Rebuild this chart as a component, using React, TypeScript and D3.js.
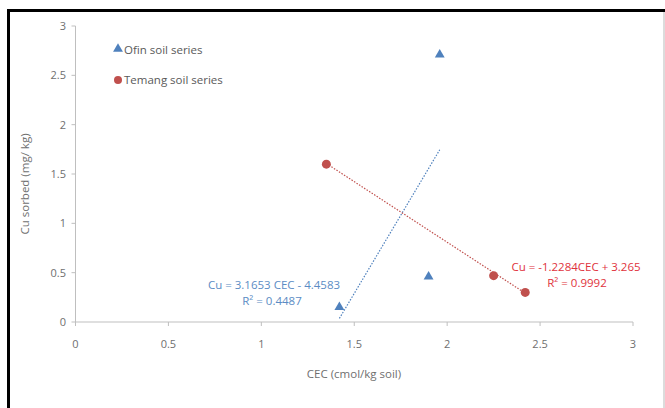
import React from "react";
import * as d3 from "d3";

// Ofin soil series (triangles)
const ofinCec = [1.42, 1.9, 1.96];
const ofinCu = [0.15, 0.46, 2.71];
// Temang soil series (circles)
const temangCec = [1.35, 2.25, 2.42];
const temangCu = [1.6, 0.47, 0.3];

// linear trend lines as shown on the chart
const ofinFit = { slope: 3.1653, intercept: -4.4583 };
const temangFit = { slope: -1.2284, intercept: 3.265 };

const xTicks = [0, 0.5, 1, 1.5, 2, 2.5, 3];
const yTicks = [0, 0.5, 1, 1.5, 2, 2.5, 3];

const BLUE = "#4f81bd";
const RED = "#c0504d";
const AXIS = "#bfbfbf";
const TEXT = "#6f6f6f";
const FONT = "'Open Sans', 'Noto Sans', sans-serif";

const App = () => {
  const x = d3.scaleLinear().domain([0, 3]).range([75.5, 633]);
  const y = d3.scaleLinear().domain([0, 3]).range([322, 26]);

  const tri = d3.symbol().type(d3.symbolTriangle).size(42)();
  const trend = (cec, fit) => {
    const [a, b] = d3.extent(cec);
    return d3.line()([
      [x(a), y(fit.slope * a + fit.intercept)],
      [x(b), y(fit.slope * b + fit.intercept)],
    ]);
  };

  return (
    <svg
      width={665}
      height={408}
      style={{ position: "absolute", left: 0, top: 0, background: "#fff" }}
      fontFamily={FONT}
    >
      {/* frame */}
      <line x1={8.5} y1={9} x2={8.5} y2={408} stroke="#000" strokeWidth={3} />
      <line x1={7} y1={10.5} x2={665} y2={10.5} stroke="#000" strokeWidth={3} />
      <line x1={664} y1={12} x2={664} y2={408} stroke="#d0d0d0" strokeWidth={1.5} />

      {/* axes */}
      <line x1={x(0)} y1={y(0)} x2={x(3)} y2={y(0)} stroke={AXIS} />
      <line x1={x(0)} y1={y(0)} x2={x(0)} y2={y(3)} stroke={AXIS} />
      {xTicks.map((t) => (
        <g key={"x" + t}>
          <line x1={x(t)} x2={x(t)} y1={y(0)} y2={y(0) + 4} stroke={AXIS} />
          <text x={x(t)} y={348} textAnchor="middle" fontSize={11} fill={TEXT}>
            {t}
          </text>
        </g>
      ))}
      {yTicks.map((t) => (
        <g key={"y" + t}>
          <line x1={x(0) - 4} x2={x(0)} y1={y(t)} y2={y(t)} stroke={AXIS} />
          <text x={66} y={y(t) + 4} textAnchor="end" fontSize={11} fill={TEXT}>
            {t}
          </text>
        </g>
      ))}

      {/* axis titles */}
      <text x={354} y={378} textAnchor="middle" fontSize={11.5} fill={TEXT}>
        CEC (cmol/kg soil)
      </text>
      <text
        transform="translate(29,184) rotate(-90)"
        textAnchor="middle"
        fontSize={11.5}
        fill={TEXT}
      >
        Cu sorbed (mg/ kg)
      </text>

      {/* trend lines */}
      <path d={trend(ofinCec, ofinFit)} stroke={BLUE} strokeWidth={1.2} strokeDasharray="1.5,1.5" fill="none" />
      <path d={trend(temangCec, temangFit)} stroke={RED} strokeWidth={1.2} strokeDasharray="1.5,1.5" fill="none" />

      {/* points */}
      {ofinCec.map((c, i) => (
        <path key={"o" + i} d={tri} transform={`translate(${x(c)},${y(ofinCu[i])})`} fill={BLUE} />
      ))}
      {temangCec.map((c, i) => (
        <circle key={"t" + i} cx={x(c)} cy={y(temangCu[i])} r={4.5} fill={RED} />
      ))}

      {/* legend */}
      <path d={tri} transform="translate(118,49)" fill={BLUE} />
      <text x={124} y={53.5} fontSize={11.5} fill="#595959">
        Ofin soil series
      </text>
      <circle cx={118} cy={80} r={4} fill={RED} />
      <text x={124} y={84} fontSize={11.5} fill="#595959">
        Temang soil series
      </text>

      {/* equations */}
      <text x={274} y={289} textAnchor="middle" fontSize={11.5} fill="#5b8cc4">
        Cu = 3.1653 CEC - 4.4583
      </text>
      <text x={272} y={305} textAnchor="middle" fontSize={11.5} fill="#5b8cc4">
        R² = 0.4487
      </text>
      <text x={576} y={271} textAnchor="middle" fontSize={11.5} fill="#e0323c">
        Cu = -1.2284CEC + 3.265
      </text>
      <text x={577} y={287} textAnchor="middle" fontSize={11.5} fill="#e0323c">
        R² = 0.9992
      </text>
    </svg>
  );
};

export default App;
